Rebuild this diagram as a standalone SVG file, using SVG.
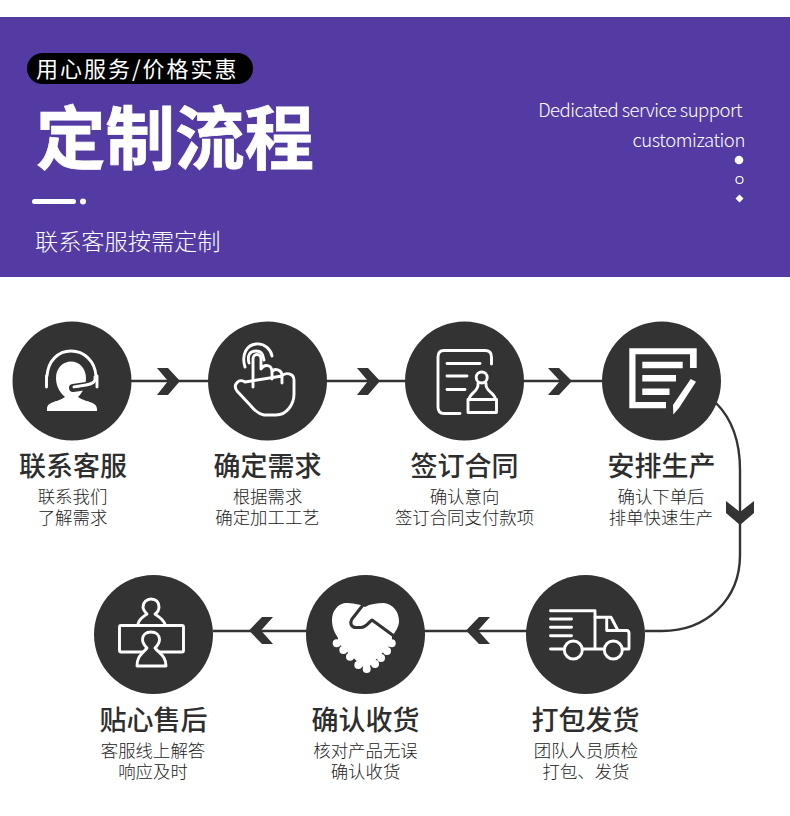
<svg xmlns="http://www.w3.org/2000/svg" width="790" height="816" viewBox="0 0 790 816">
<style>
text{font-family:"Noto Sans CJK SC","Noto Sans",sans-serif}
.t{font-size:27px;font-weight:500;fill:#2e2e2e;text-anchor:middle}
.s{font-size:17.4px;font-weight:300;fill:#222;text-anchor:middle}
.c{fill:#333}
.i{fill:none;stroke:#fff;stroke-width:2.9;stroke-linecap:round;stroke-linejoin:round}
.w{fill:#fff;stroke:none}
.d{fill:none;stroke:#333;stroke-linecap:round;stroke-linejoin:round}
.l{fill:none;stroke:#333;stroke-width:2.4}
.h{fill:#fff}
</style>
<rect width="790" height="816" fill="#fff"/>
<g id="header">
<rect x="0" y="17" width="790" height="260" fill="#533ba3"/>
<rect x="27" y="53" width="226" height="31" rx="15.500" fill="#000"/>
<text x="36" y="77" font-size="22" letter-spacing="2" class="h">用心服务/价格实惠</text>
<text x="36" y="164" font-size="69.500" font-weight="700" stroke="#fff" stroke-width="0.800" class="h">定制流程</text>
<rect x="32" y="199" width="44" height="5" rx="2.500" class="h"/>
<circle cx="83" cy="201.500" r="3" class="h"/>
<text x="35" y="250" font-size="23.200" font-weight="300" class="h">联系客服按需定制</text>
<text x="742" y="117" font-size="18.500" font-weight="300" letter-spacing="-0.520" text-anchor="end" class="h">Dedicated service support</text>
<text x="745" y="147" font-size="18.500" font-weight="300" letter-spacing="-0.400" text-anchor="end" class="h">customization</text>
<circle cx="739" cy="160" r="4.300" class="h"/>
<circle cx="739.500" cy="180" r="3.500" fill="none" stroke="#fff" stroke-width="1.200"/>
<path d="M739.500 194.500l4 4-4 4-4-4z" class="h"/>
</g>
<g id="connectors">
<path class="l" d="M131 381H209M326 381H406M523 381H603"/>
<path class="l" d="M716 403C733 420 740 445 740 470V555C740 600 706 631 662 631H645"/>
<path class="l" d="M213 631H307M424 631H527"/>
<g fill="#333">
<path d="M157 368H168L180 381 168 395H157L168 381z"/>
<path d="M357 368H368L380 381 368 395H357L368 381z"/>
<path d="M548 368H559L572 381 559 395H548L560 381z"/>
<path d="M726 501V513L740 525 754 513V501L740 512z"/>
<path d="M273 617H262L249 630.500 262 644H273L261 630.500z"/>
<path d="M490 617H479L466 630.500 479 644H490L478 630.500z"/>
</g>
</g>
<g id="node1">
<circle class="c" cx="72" cy="381" r="59.500"/>
<path class="i" d="M47 376C48 361 58 351 71 351S95 361 96 376"/>
<path class="i" d="M46.500 376V387M97 376V387"/>
<path class="w" d="M56 378C56 368 63 361.500 71 361.500S86 368 86 378C86 388 81 394 78 397 84 402 97 401 97 409V411H47V409C47 401 59 402 65 397 60 393 56 386 56 378Z"/>
<path class="d" stroke-width="8" d="M73 388L90 385.500"/>
<path fill="none" stroke="#fff" stroke-width="2.900" stroke-linecap="round" d="M95 377C96 382 92 384 86 385L74 387"/>
<path class="d" stroke-width="1.800" d="M74 389.500L88 388"/>
</g>
<g id="node2">
<circle class="c" cx="267.500" cy="381" r="59.500"/>
<path class="i" d="M245 367C241 354 247 345 256 344S271 350 272 356"/>
<path class="i" d="M249 363C247 355 250 351 256 351S263 355 264 360"/>
<path class="i" d="M253 387V359C253 353 261 353 261 359V369C264 364 272 364 272 372V379M272 372C274 368 282 369 282 376V383M282 376C285 372 294 373 294 380V394C294 404 287 415 276 415H264C258 414 255 411 251 406L237 391C232 384 240 378 245 382Z"/>
</g>
<g id="node3">
<circle class="c" cx="464.500" cy="381" r="59.500"/>
<path class="i" d="M491.500 364V357C491.500 352 489 350.500 485 350.500H444C440 350.500 438 353 438 357V407C438 411 440 413.500 444 413.500H460"/>
<path class="i" d="M447 363.500H480M447 376H467M447 389.500H465"/>
<circle class="i" cx="481.700" cy="377.500" r="5.500"/>
<path class="i" d="M478 383.500C479 392 470 392 469 399.500H495.500C495 392 485 392 486 383.500"/>
<rect class="i" x="468" y="399.500" width="28.500" height="13"/>
</g>
<g id="node4">
<circle class="c" cx="661.500" cy="381" r="59.500"/>
<path class="w" d="M629.300 348.300H696.700V368H690V354.300H635.500V402H666V408.300H629.300Z"/>
<path class="w" d="M642.300 361.700H682.700V368.300H642.300ZM642.300 375H676V381.500H642.300ZM642.300 388.500H669.500V395H642.300Z"/>
<path class="w" d="M690.700 379L696 381.700 679 408 673.300 414.500 673 405Z"/>
</g>
<g id="node5">
<circle class="c" cx="585.500" cy="634.500" r="59.500"/>
<path class="i" d="M550.500 610.700H595V648.500"/>
<path class="i" d="M550.500 619H571.500M550.500 627.300H571.500M550.500 635.700H571.500"/>
<path class="i" d="M595 617.300H611L618 630.500H627C628.500 631 629 632 629 633V649H623M583 649H604M550.500 649H564"/>
<path class="i" d="M606.700 618V630.500H618"/>
<circle class="i" cx="573.300" cy="650" r="9"/>
<circle class="i" cx="613.300" cy="650" r="9"/>
</g>
<g id="node6">
<circle class="c" cx="365.500" cy="634.500" r="59.500"/>
<path class="w" d="M365 607C360 604 352 603 345 603 337 604 332 612 332 620 332 628 335 633 338 638 V643L366 670 392 643V637C396 630 399 627 399 621 399 612 393 604 384 603 377 603 370 604 365 607Z"/>
<g fill="#fff"><circle cx="336.700" cy="643.300" r="4"/><circle cx="343.300" cy="650" r="4"/><circle cx="350" cy="656.700" r="4"/><circle cx="358.300" cy="665" r="4"/><circle cx="366.700" cy="669" r="4"/><circle cx="375" cy="664" r="4"/><circle cx="381" cy="658" r="4"/><circle cx="387" cy="651" r="4"/><circle cx="391.700" cy="643.300" r="4"/></g>
<path class="d" stroke-width="3" d="M363 605L352 619C349 624 352 627.500 356 627.500H361C366 627.500 369 622 372 620L398 639"/>
</g>
<g id="node7">
<circle class="c" cx="153.500" cy="634.500" r="59.500"/>
<path class="i" d="M138 624C139 619 143 617 147 614 144 611 143 608 143 607 143 602 147 599 151 599 156 599 159 602 159 607 159 610 158 612 155 614 159 617 163 619 165 624"/>
<rect class="i" x="119.500" y="625.500" width="64" height="26.500" rx="1.500"/>
<path fill="#333" stroke="#fff" stroke-width="2.900" stroke-linejoin="round" d="M137 666C137 656 142 654 147 648 144 645 142.500 643 142.500 639.500 142.500 635 146 632 151 632S159.500 635 159.500 639.500C159.500 643 158 645 155 648 160 654 166 656 166 666Z"/>
</g>
<g id="labels">
<text class="t" x="73" y="476">联系客服</text><text class="s" x="72.500" y="503">联系我们</text><text class="s" x="72.500" y="524">了解需求</text>
<text class="t" x="267.500" y="476">确定需求</text><text class="s" x="267.500" y="503">根据需求</text><text class="s" x="267.500" y="524">确定加工工艺</text>
<text class="t" x="464.500" y="476">签订合同</text><text class="s" x="464.500" y="503">确认意向</text><text class="s" x="464.500" y="524">签订合同支付款项</text>
<text class="t" x="661.500" y="476">安排生产</text><text class="s" x="661" y="503">确认下单后</text><text class="s" x="661" y="524">排单快速生产</text>
<text class="t" x="585.500" y="730">打包发货</text><text class="s" x="586" y="757">团队人员质检</text><text class="s" x="586" y="778">打包、发货</text>
<text class="t" x="365.500" y="730">确认收货</text><text class="s" x="365.500" y="757">核对产品无误</text><text class="s" x="365.500" y="778">确认收货</text>
<text class="t" x="153.500" y="730">贴心售后</text><text class="s" x="153" y="757">客服线上解答</text><text class="s" x="153" y="778">响应及时</text>
</g>
</svg>
